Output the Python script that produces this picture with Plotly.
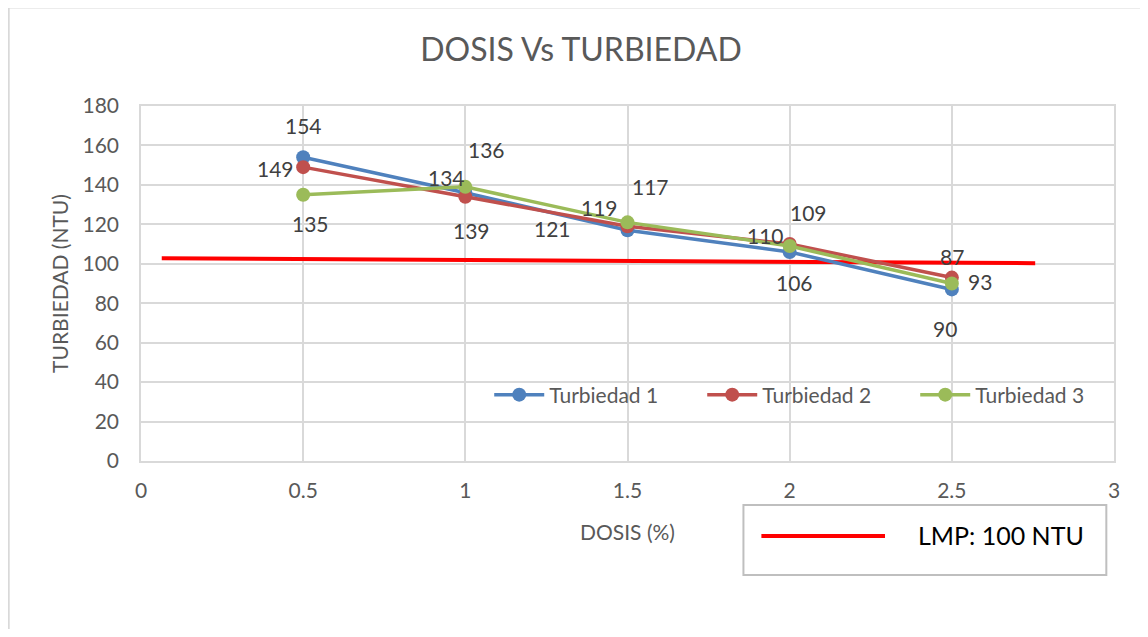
import plotly.graph_objects as go

dosis = [0.5, 1.0, 1.5, 2.0, 2.5]
turbiedad_1 = [154, 136, 117, 106, 87]
turbiedad_2 = [149, 134, 119, 110, 93]
turbiedad_3 = [135, 139, 121, 109, 90]
lmp_x = [0.064, 2.757]
lmp_y = [102.8, 100.3]
series_names = ["Turbiedad 1", "Turbiedad 2", "Turbiedad 3"]
colors = ["#4f81bd", "#c0504d", "#9bbb59"]
x_ticks = [0, 0.5, 1, 1.5, 2, 2.5, 3]
x_tick_labels = ["0", "0.5", "1", "1.5", "2", "2.5", "3"]
y_ticks = [0, 20, 40, 60, 80, 100, 120, 140, 160, 180]

# pixel offsets of each data label from its marker (dx right, dy down)
label_offsets = [
    [(0, -32), (21, -43), (23, -44), (5, 31), (0, -33)],
    [(-28, 1), (-19, -19), (-28, -19), (-24, -9), (28, 4)],
    [(7, 29), (6, 44), (-75, 6), (19, -34), (-7, 45)],
]

FONT = "Lato"
TXT = "#595959"
GRID = "#d9d9d9"

# figure geometry (page has an 8px body margin)
OFF = 8
W, H = 1132, 621
L, T = 140.7 - OFF, 106 - OFF
PW, PH = 976, 355
R = W - L - PW
B = H - T - PH


def px(xp):
    return (xp - OFF - L) / PW


def py(yp):
    return (H - B - (yp - OFF)) / PH


fig = go.Figure()
fig.add_trace(go.Scatter(x=lmp_x, y=lmp_y, mode="lines",
                         line=dict(color="#ff0000", width=4),
                         showlegend=False, hoverinfo="skip"))
all_series = [turbiedad_1, turbiedad_2, turbiedad_3]
for name, vals, col in zip(series_names, all_series, colors):
    fig.add_trace(go.Scatter(x=dosis, y=vals, mode="lines+markers", name=name,
                             line=dict(color=col, width=3.5),
                             marker=dict(color=col, size=14)))

annotations = []
for vals, offs in zip(all_series, label_offsets):
    for xv, yv, (dx, dy) in zip(dosis, vals, offs):
        annotations.append(dict(x=xv, y=yv, xref="x", yref="y", text=str(yv),
                                showarrow=False, xshift=dx, yshift=-dy,
                                font=dict(family=FONT, size=21, color="#404040")))

# LMP legend box text
annotations.append(dict(x=px(918), y=py(535), xref="paper", yref="paper",
                        text="LMP: 100 NTU", showarrow=False, xanchor="left",
                        yanchor="middle",
                        font=dict(family=FONT, size=25, color="#000000")))

shapes = [
    # outer chart border (left and top)
    dict(type="line", xref="paper", yref="paper", x0=px(8), x1=px(8),
         y0=py(7), y1=py(640), line=dict(color="#d9d9d9", width=2), layer="below"),
    dict(type="line", xref="paper", yref="paper", x0=px(7), x1=px(1150),
         y0=py(7.5), y1=py(7.5), line=dict(color="#d9d9d9", width=2), layer="below"),
    # LMP legend box
    dict(type="rect", xref="paper", yref="paper", x0=px(745), x1=px(1109),
         y0=py(575), y1=py(505), line=dict(color="#bfbfbf", width=2),
         fillcolor="white"),
    dict(type="line", xref="paper", yref="paper", x0=px(763), x1=px(887),
         y0=py(536), y1=py(536), line=dict(color="#ff0000", width=4)),
]

fig.update_layout(
    width=W, height=H,
    margin=dict(l=L, r=R, t=T, b=B, pad=0),
    paper_bgcolor="white", plot_bgcolor="white",
    font=dict(family=FONT, color=TXT),
    title=dict(text="DOSIS Vs TURBIEDAD", x=(581 - OFF) / W, xanchor="center",
               xref="container", yref="container", y=1 - (50 - OFF) / H,
               yanchor="middle", font=dict(family=FONT, size=32, color=TXT)),
    xaxis=dict(range=[0, 3], tickvals=x_ticks, ticktext=x_tick_labels,
               showgrid=True, gridcolor=GRID, gridwidth=1.5,
               showline=True, linecolor=GRID, linewidth=1.5, mirror=True,
               zeroline=False, ticks="", tickfont=dict(size=21, color=TXT),
               ticklabelstandoff=10,
               title=dict(text="DOSIS (%)", font=dict(size=21, color=TXT), standoff=24)),
    yaxis=dict(range=[0, 180], tickvals=y_ticks,
               showgrid=True, gridcolor=GRID, gridwidth=1.5,
               showline=True, linecolor=GRID, linewidth=1.5, mirror=True,
               zeroline=False, ticks="", tickfont=dict(size=21, color=TXT),
               ticklabelstandoff=16,
               title=dict(text="TURBIEDAD (NTU)", font=dict(size=21, color=TXT), standoff=8)),
    legend=dict(orientation="h", x=px(490), y=py(395), xref="paper", yref="paper",
                xanchor="left", yanchor="middle", bgcolor="rgba(0,0,0,0)",
                font=dict(size=21, color=TXT), itemwidth=50,
                entrywidth=148, entrywidthmode="pixels"),
    annotations=annotations,
    shapes=shapes,
)

fig.write_html("out.html")
